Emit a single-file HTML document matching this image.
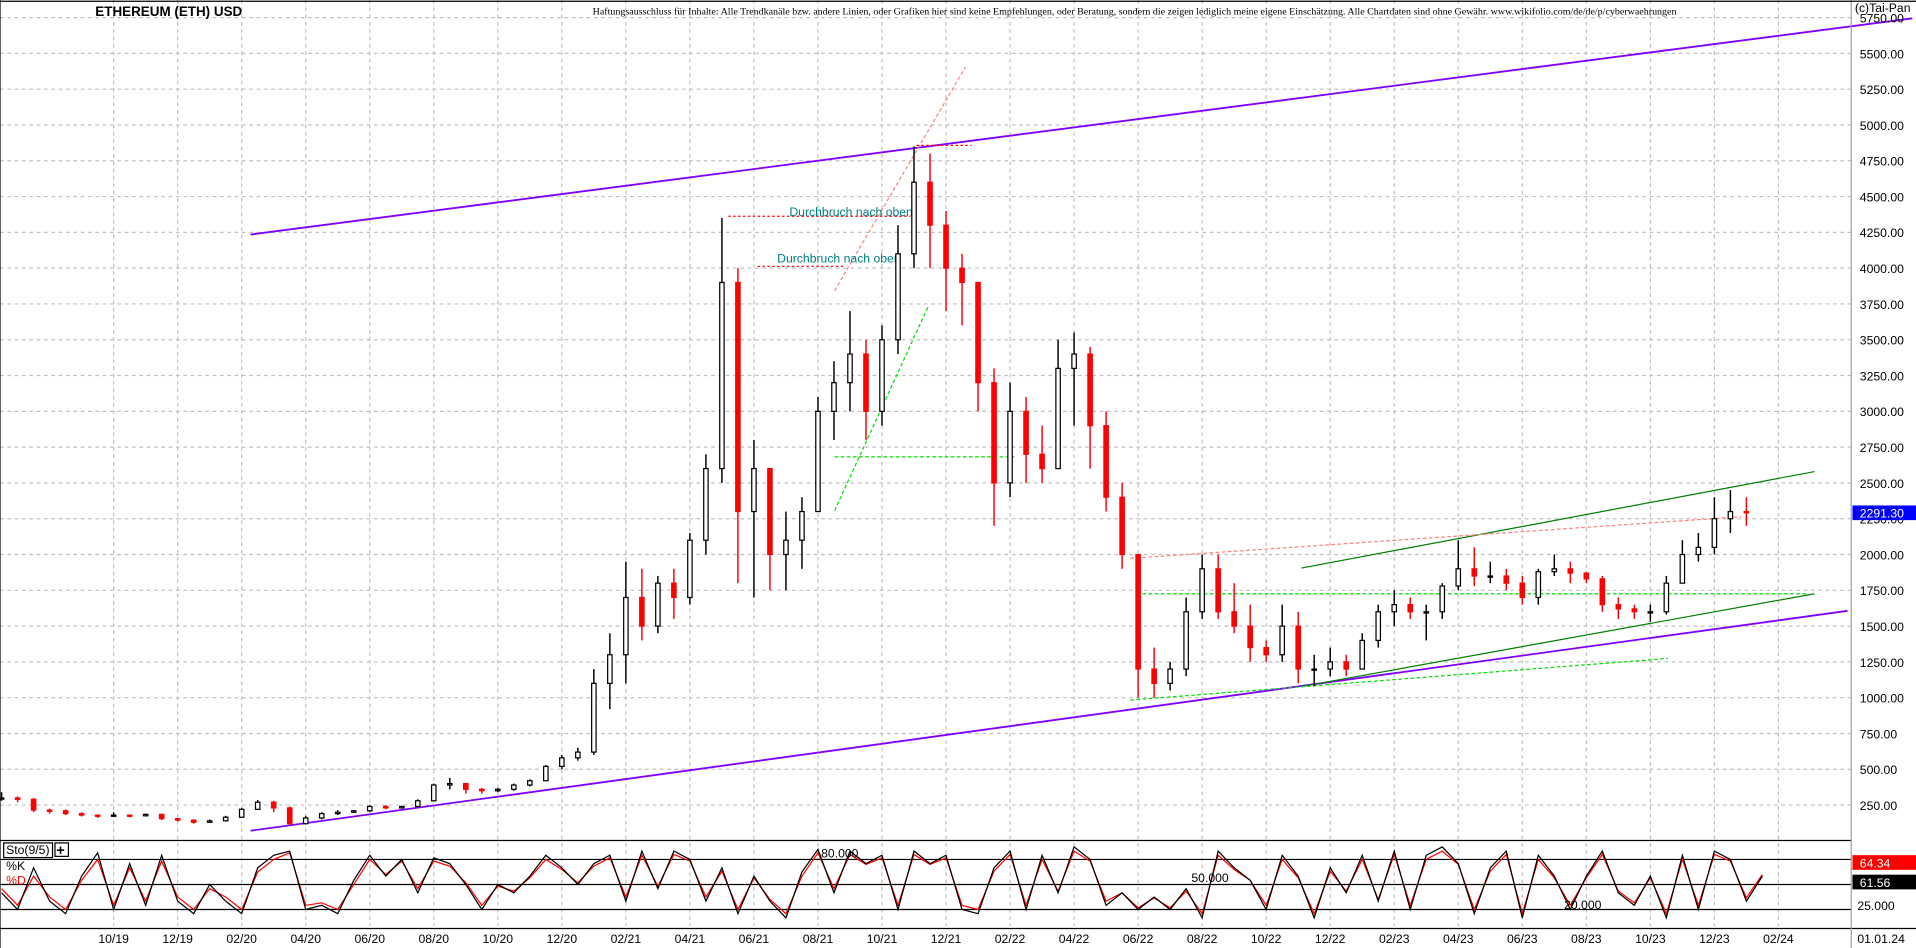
<!DOCTYPE html>
<html><head><meta charset="utf-8">
<style>
html,body{margin:0;padding:0;background:#fff;}
svg{display:block;font-family:"Liberation Sans",sans-serif;}
</style></head>
<body>
<svg id="chart" width="1916" height="948" viewBox="0 0 1568 776" preserveAspectRatio="none" xmlns="http://www.w3.org/2000/svg">
<rect x="0" y="0" width="1568" height="776" fill="#fff"/>
<g id="grid"></g>
<g id="annot">
 <line x1="205" y1="192" x2="1565" y2="15" stroke="#8000ff" stroke-width="1.5"/>
 <line x1="205" y1="680" x2="1512" y2="500" stroke="#8000ff" stroke-width="1.5"/>
 <line x1="1065" y1="465" x2="1485" y2="386" stroke="#008000" stroke-width="1"/>
 <line x1="1065" y1="562" x2="1485" y2="486" stroke="#008000" stroke-width="1"/>
 <line x1="925" y1="573" x2="1365" y2="539" stroke="#00dd00" stroke-width="1" stroke-dasharray="3,2"/>
 <line x1="930" y1="486" x2="1480" y2="486" stroke="#00dd00" stroke-width="1" stroke-dasharray="3,2"/>
 <line x1="683" y1="418" x2="760" y2="250" stroke="#00dd00" stroke-width="1" stroke-dasharray="3,2"/>
 <line x1="683" y1="374" x2="830" y2="374" stroke="#00dd00" stroke-width="1" stroke-dasharray="3,2"/>
 <line x1="683" y1="238" x2="790" y2="55" stroke="#ff8080" stroke-width="1" stroke-dasharray="3,2"/>
 <line x1="596" y1="177" x2="745" y2="177" stroke="#ff0000" stroke-width="1" stroke-dasharray="2,2"/>
 <line x1="620" y1="218" x2="690" y2="218" stroke="#ff0000" stroke-width="1" stroke-dasharray="2,2"/>
 <line x1="750" y1="119" x2="795" y2="119" stroke="#ff0000" stroke-width="1" stroke-dasharray="2,2"/>
 <line x1="925" y1="457" x2="1425" y2="423" stroke="#ff8080" stroke-width="1" stroke-dasharray="3,2"/>
 <text x="646" y="177" font-size="10" fill="#008080">Durchbruch nach oben!</text>
 <text x="636" y="215" font-size="10" fill="#008080">Durchbruch nach oben</text>
</g>
<g id="candles"></g>
<g id="sto"></g>
<g id="axes"></g>
<text x="78" y="13" font-size="11" font-weight="bold" fill="#000">ETHEREUM (ETH) USD</text>
<text x="485" y="12" font-size="7.5" fill="#000" font-family="Liberation Serif, serif" textLength="887" lengthAdjust="spacingAndGlyphs">Haftungsausschluss für Inhalte: Alle Trendkanäle bzw. andere Linien, oder Grafiken hier sind keine Empfehlungen, oder Beratung, sondern die zeigen lediglich meine eigene Einschätzung. Alle Chartdaten sind ohne Gewähr. www.wikifolio.com/de/de/p/cyberwaehrungen</text>
<text x="1518" y="10" font-size="10" fill="#000">(c)Tai-Pan</text>
</svg>
<script>
const priceTicks=[250,500,750,1000,1250,1500,1750,2000,2250,2500,2750,3000,3250,3500,3750,4000,4250,4500,4750,5000,5250,5500,5750];
const dateLabels=["10/19","12/19","02/20","04/20","06/20","08/20","10/20","12/20","02/21","04/21","06/21","08/21","10/21","12/21","02/22","04/22","06/22","08/22","10/22","12/22","02/23","04/23","06/23","08/23","10/23","12/23","02/24"];
const startMonth=-3.5;
const closes=[300,290,215,210,190,180,175,180,175,185,155,145,130,140,165,220,270,230,120,160,190,200,210,240,230,240,280,390,400,360,350,360,390,420,520,580,620,1100,1300,1700,1500,1800,1700,2100,2600,3900,2300,2600,2000,2100,2300,3000,3200,3400,3000,3500,4100,4600,4300,4000,3900,3200,2500,3000,2700,2600,3300,3400,2900,2400,2000,1200,1100,1200,1600,1900,1600,1500,1350,1300,1500,1200,1200,1250,1200,1400,1600,1650,1600,1600,1780,1900,1850,1850,1800,1700,1880,1900,1870,1830,1650,1620,1600,1600,1800,2000,2050,2250,2300,2291];
const highs=[340,310,300,225,220,200,185,200,185,190,190,160,150,150,175,230,285,280,240,175,200,215,215,250,250,245,290,400,440,400,370,370,400,430,530,600,650,1200,1450,1950,1900,1850,1900,2150,2700,4350,4000,2800,2600,2300,2400,3100,3350,3700,3500,3600,4300,4850,4800,4400,4100,3900,3300,3200,3100,2900,3500,3550,3450,3000,2500,2000,1350,1250,1700,2000,2000,1800,1650,1400,1650,1600,1300,1350,1300,1450,1650,1750,1700,1650,1800,2100,2050,1950,1900,1850,1900,2000,1950,1880,1850,1700,1650,1650,1850,2100,2150,2400,2450,2400];
const lows=[280,270,200,190,180,170,160,170,165,170,145,135,120,125,135,160,220,200,110,115,150,180,195,200,220,225,235,280,360,330,330,340,350,380,420,500,560,600,920,1100,1400,1450,1550,1650,2000,2500,1800,1700,1750,1750,1900,2300,2800,3000,2800,2900,3400,4000,4000,3700,3600,3000,2200,2400,2500,2500,2600,2900,2600,2300,1900,1000,1000,1050,1150,1550,1550,1450,1250,1250,1250,1100,1080,1150,1150,1200,1350,1500,1550,1400,1550,1750,1780,1800,1750,1650,1650,1850,1800,1800,1600,1550,1550,1530,1580,1800,1950,2000,2150,2200];
const stoK=[40,20,70,30,15,60,88,20,75,25,85,30,15,50,30,15,70,85,90,20,25,15,55,85,60,80,40,82,75,50,20,50,40,60,85,70,50,75,85,30,90,45,90,80,30,70,15,60,30,10,65,92,40,90,75,85,20,90,75,85,20,15,70,90,20,85,40,95,80,25,40,20,35,20,45,10,90,70,55,20,85,60,10,70,40,85,30,90,20,85,95,75,15,70,90,10,85,60,20,60,90,40,25,60,10,85,20,90,80,30,60];
const stoD=[45,25,60,35,20,55,80,25,70,30,78,35,20,45,35,20,65,80,88,25,28,20,50,80,62,78,45,78,72,52,25,48,42,58,80,68,52,72,82,35,85,48,86,78,35,66,20,58,32,15,60,88,45,86,74,82,25,86,74,82,25,20,66,86,25,80,42,90,78,30,40,22,34,22,42,15,85,68,55,25,80,58,15,66,42,80,32,86,25,80,90,74,20,66,86,15,80,58,25,58,86,42,28,58,15,80,25,86,78,34,62];
const stoLevels=[80,50,20];
const NS="http://www.w3.org/2000/svg";
function xM(m){return 93+m*26.2;}
function yP(p){return 659-(p-250)/250*29.3;}
function yS(s){return 724-(s-50)*0.683;}
function mk(tag,attrs,parent){const e=document.createElementNS(NS,tag);for(const k in attrs)e.setAttribute(k,attrs[k]);parent.appendChild(e);return e;}
const grid=document.getElementById('grid'),axes=document.getElementById('axes'),cg=document.getElementById('candles'),sg=document.getElementById('sto');
priceTicks.forEach(p=>{
 const l=mk('line',{x1:0,x2:1515,y1:yP(p),y2:yP(p),stroke:'#c0c0c0','stroke-dasharray':'3,3'},grid);
 
 
 const t=mk('text',{x:1522,y:yP(p)+4,'font-size':10,fill:'#000'},axes);
 t.textContent=p.toFixed(2);
 
 
});
dateLabels.forEach((d,i)=>{
 const x=xM(i*2);
 const l=mk('line',{x1:x,x2:x,y1:0,y2:758,stroke:'#c0c0c0','stroke-dasharray':'3,3'},grid);
 
 
 const t=mk('text',{x:x,y:772,'font-size':10,fill:'#000','text-anchor':'middle'},axes);
 t.textContent=d;
 
 
});
closes.forEach((c,i)=>{
 const o=i===0?c:closes[i-1];const x=xM(startMonth+i*0.5);
 const up=c>=o;const col=up?'#000':'#ff0000';
 const top=yP(Math.max(o,c)),bot=yP(Math.min(o,c));
 const hi=highs[i]!==undefined?highs[i]:Math.max(o,c),lo=lows[i]!==undefined?lows[i]:Math.min(o,c);
 const w=mk('line',{x1:x,x2:x,y1:Math.min(yP(hi),top),y2:Math.max(yP(lo),bot),stroke:col,'stroke-width':1.2},cg);
 
 
 const r=mk('rect',{x:x-1.8,y:top,width:3.6,height:Math.max(1,bot-top),fill:up?'#fff':'#ff0000',stroke:col,'stroke-width':1},cg);
 
 
});
stoLevels.forEach(s=>{
 const l=mk('line',{x1:0,x2:1515,y1:yS(s),y2:yS(s),stroke:'#000','stroke-width':1},sg);
 
 
});
function poly(arr,col,name){
 const pts=arr.map((v,i)=>xM(startMonth+i*0.5)+','+yS(v)).join(' ');
 const p=mk('polyline',{points:pts,fill:'none',stroke:col,'stroke-width':1},sg);
 
 
}
poly(stoD,'#ff0000','sto-d-line');
poly(stoK,'#000','sto-k-line');
[[0,688,1515,688],[0,760,1568,760],[1515,0,1515,776],[0,0,0,776],[0,1,1568,1]].forEach(a=>{
 const l=mk('line',{x1:a[0],y1:a[1],x2:a[2],y2:a[3],stroke:a[0]===1515?'#a0a0a0':'#000','stroke-width':1},axes);
 
 
});
const lbl=[["Sto(9/5)",5,699,'#000'],["%K",5,712,'#000'],["%D",5,724,'#ff0000'],["80.000",672,702,'#000'],["50.000",975,722,'#000'],["20.000",1280,744,'#000'],["25.000",1520,745,'#000'],["01.01.24",1520,772,'#000']];
lbl.forEach(a=>{const t=mk('text',{x:a[1],y:a[2],'font-size':10,fill:a[3]},axes);t.textContent=a[0];
 
 });
mk('rect',{x:3,y:690,width:40,height:12,fill:'none',stroke:'#000'},axes);
mk('rect',{x:45,y:690,width:11,height:11,fill:'none',stroke:'#000'},axes);
const pl=mk('text',{x:46,y:700,'font-size':12,'font-weight':'bold'},axes);pl.textContent='+';


[['#0000ff',yP(2291.3),'2291.30'],['#ff0000',706,'64.34'],['#000',722,'61.56']].forEach(b=>{
 const r=mk('rect',{x:1516,y:b[1]-6,width:52,height:12,fill:b[0]},axes);
 
 
 const t=mk('text',{x:1522,y:b[1]+4,'font-size':10,fill:'#fff'},axes);t.textContent=b[2];
 
 
});
</script>
</body></html>
